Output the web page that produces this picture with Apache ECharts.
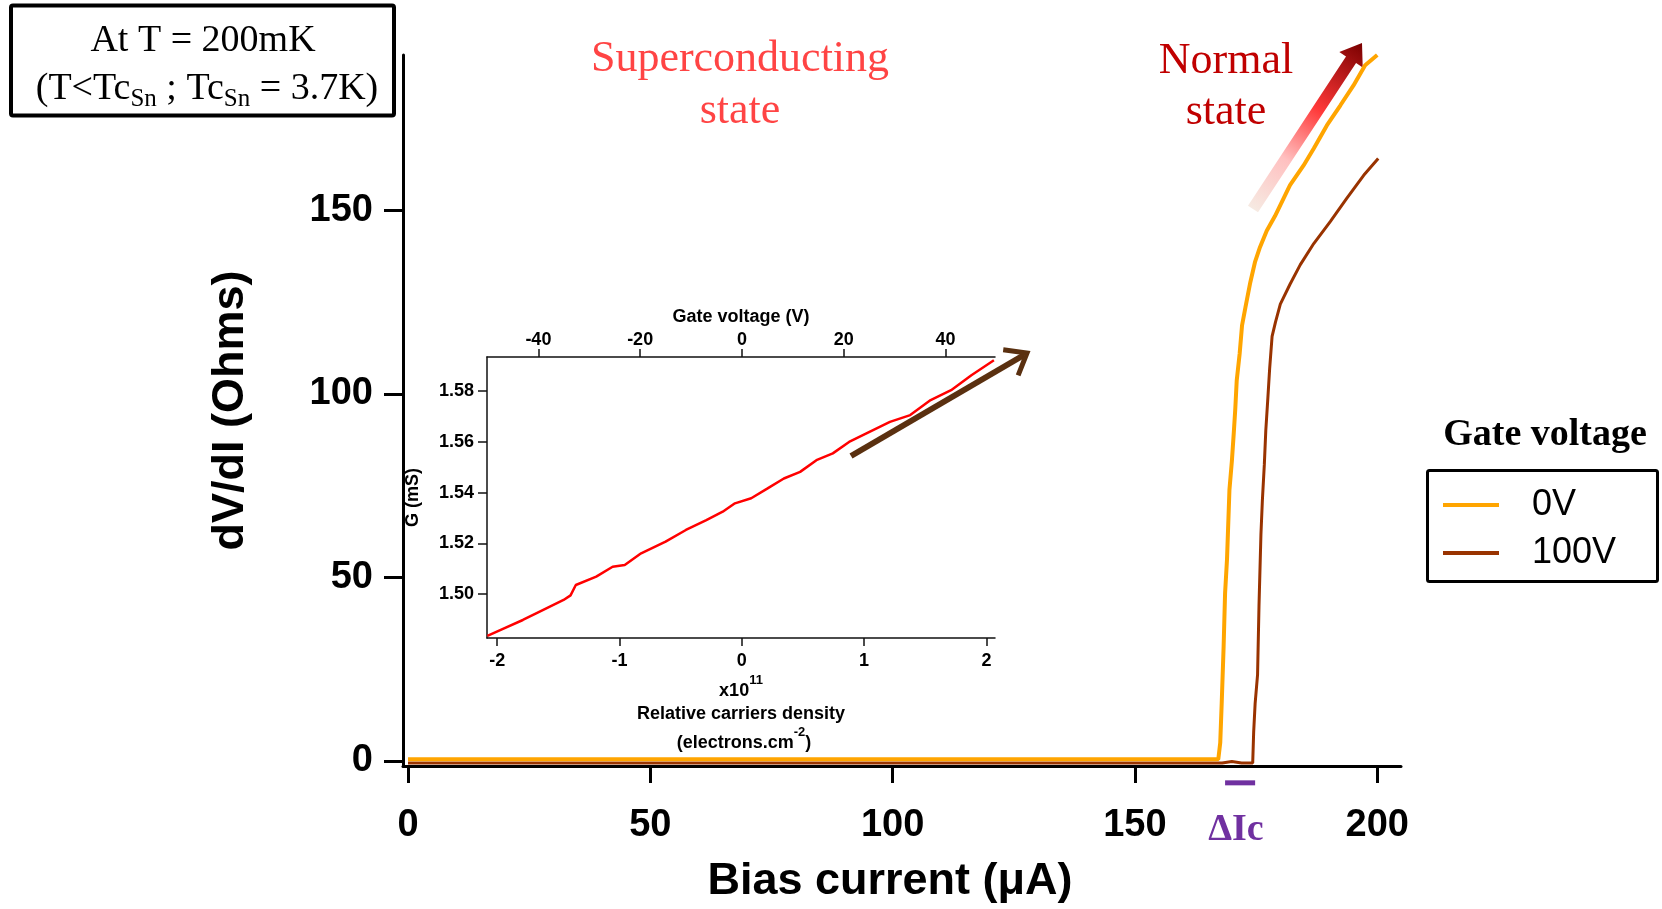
<!DOCTYPE html>
<html>
<head>
<meta charset="utf-8">
<script src="https://cdn.jsdelivr.net/npm/echarts@6/dist/echarts.min.js"></script>
<style>
  html, body { margin: 0; padding: 0; background: #fff; }
  #chart { width: 1662px; height: 909px; }
</style>
</head>
<body>
<div id="chart"></div>
<script>
// main plot: bias current (µA) -> dV/dI (Ohms)
var gate0V = [
  [0, 0.4], [60, 0.4], [120, 0.4], [167.2, 0.4], [167.6, 4.9], [167.9, 15.6], [168.3, 31.2],
  [168.6, 45.7], [169.0, 55], [169.5, 73.9], [170.0, 81.7], [170.4, 89.5], [170.7, 95.8],
  [171.0, 103.6], [171.6, 110.9], [172.1, 118.7], [172.8, 123.6], [173.8, 130.4], [174.8, 136.1],
  [175.8, 140], [177.2, 144.5], [178.9, 148.5], [180.0, 151.5], [182.0, 156.9], [184.8, 162.3],
  [186.9, 166.9], [189.6, 173.2], [192.4, 178.7], [195.1, 184.1], [197.5, 189.6], [200.0, 192.4]
];
var gate100V = [
  [0, -0.6], [60, -0.6], [120, -0.6], [160, -0.6], [168, -0.6], [170, -0.2], [172, -0.6],
  [174.3, -0.6], [174.5, 7.9], [174.8, 15.6], [175.3, 23.4], [175.6, 42.3], [176.0, 61.8],
  [176.3, 71.1], [176.7, 80.8], [177.0, 90], [177.4, 98.3], [177.8, 107], [178.3, 115.7],
  [179.0, 119.6], [180, 124.5], [182, 129.9], [184.1, 135.2], [186.9, 141], [190.3, 147.0],
  [193.7, 153.3], [197.2, 159.6], [200.2, 164.2]
];
var biasTicks = [0, 50, 100, 150, 200];
var dvdiTicks = [0, 50, 100, 150];
var deltaIc = [[168.6, -6], [174.8, -6]];

// inset: relative carrier density (x1e11 cm^-2) -> G (mS)
var densityG = [
  [-2.08, 1.4835], [-1.957, 1.4862], [-1.79, 1.4898], [-1.623, 1.4938], [-1.457, 1.4977],
  [-1.40, 1.4995], [-1.357, 1.5036], [-1.19, 1.5069], [-1.056, 1.5108], [-0.957, 1.5115],
  [-0.823, 1.5161], [-0.623, 1.5207], [-0.457, 1.5253], [-0.29, 1.5292], [-0.156, 1.5325],
  [-0.056, 1.5358], [0.077, 1.5378], [0.211, 1.5417], [0.344, 1.5456], [0.477, 1.5482],
  [0.61, 1.5528], [0.744, 1.5555], [0.877, 1.5600], [1.044, 1.5640], [1.211, 1.5679],
  [1.377, 1.5706], [1.544, 1.5765], [1.711, 1.5804], [1.877, 1.5863], [2.061, 1.5922]
];
var densityTicks = [-2, -1, 0, 1, 2];
var gateTicks = [-40, -20, 0, 20, 40];
var gTicks = [1.50, 1.52, 1.54, 1.56, 1.58];

var SANS = "'Liberation Sans', Arial, sans-serif";
var SERIF = "'Liberation Serif', 'Times New Roman', serif";

function arrowPolygon(x1, y1, x2, y2, shaft, head, headLen) {
  var dx = x2 - x1, dy = y2 - y1, len = Math.sqrt(dx * dx + dy * dy);
  var ux = dx / len, uy = dy / len, nx = -uy, ny = ux;
  var bx = x2 - ux * headLen, by = y2 - uy * headLen;
  return [
    [x1 + nx * shaft, y1 + ny * shaft], [bx + nx * shaft, by + ny * shaft],
    [bx + nx * head, by + ny * head], [x2, y2],
    [bx - nx * head, by - ny * head], [bx - nx * shaft, by - ny * shaft],
    [x1 - nx * shaft, y1 - ny * shaft]
  ];
}
function chevron(x1, y1, x2, y2, wing, ang) {
  var a = Math.atan2(y1 - y2, x1 - x2), r = ang * Math.PI / 180;
  return [
    [x2 + wing * Math.cos(a + r), y2 + wing * Math.sin(a + r)],
    [x2, y2],
    [x2 + wing * Math.cos(a - r), y2 + wing * Math.sin(a - r)]
  ];
}

var mainAxisStyle = { onZero: false, lineStyle: { color: '#000', width: 3 } };
var insetAxisLine = { onZero: false, lineStyle: { color: '#111', width: 1.5 } };

var chart = echarts.init(document.getElementById('chart'));
var option = {
  backgroundColor: '#fff',
  animation: false,
  grid: [
    { left: 403, top: 55, right: 261, bottom: 140.5 },
    { left: 487, top: 357, width: 508, height: 281 }
  ],
  xAxis: [
    {
      gridIndex: 0, type: 'value', min: -1.03, max: 204.9,
      name: 'Bias current (μA)', nameLocation: 'middle', nameGap: 93,
      nameTextStyle: { fontFamily: SANS, fontWeight: 'bold', fontSize: 45, color: '#000', padding: [0, 24, 0, 0] },
      axisLine: mainAxisStyle,
      axisTick: { customValues: biasTicks, length: 17, lineStyle: { color: '#000', width: 3 } },
      axisLabel: { customValues: biasTicks, margin: 41, fontFamily: SANS, fontWeight: 'bold', fontSize: 38, color: '#000' },
      splitLine: { show: false }
    },
    {
      gridIndex: 1, type: 'value', min: -2.083, max: 2.07,
      axisLine: insetAxisLine,
      axisTick: { customValues: densityTicks, length: 8, lineStyle: { color: '#111', width: 1.5 } },
      axisLabel: { customValues: densityTicks, margin: 14, fontFamily: SANS, fontWeight: 'bold', fontSize: 18, color: '#000' },
      splitLine: { show: false }
    },
    {
      gridIndex: 1, type: 'value', position: 'top', min: -50.1, max: 49.75,
      name: 'Gate voltage (V)', nameLocation: 'middle', nameGap: 31,
      nameTextStyle: { fontFamily: SANS, fontWeight: 'bold', fontSize: 18, color: '#000' },
      axisLine: insetAxisLine,
      axisTick: { customValues: gateTicks, length: 8, lineStyle: { color: '#111', width: 1.5 } },
      axisLabel: { customValues: gateTicks, margin: 8, fontFamily: SANS, fontWeight: 'bold', fontSize: 18, color: '#000' },
      splitLine: { show: false }
    }
  ],
  yAxis: [
    {
      gridIndex: 0, type: 'value', min: -1.41, max: 192.4,
      name: 'dV/dI (Ohms)', nameLocation: 'middle', nameGap: 150, nameRotate: 90,
      nameTextStyle: { fontFamily: SANS, fontWeight: 'bold', fontSize: 45, color: '#000' },
      axisLine: mainAxisStyle,
      axisTick: { customValues: dvdiTicks, length: 19, lineStyle: { color: '#000', width: 3 } },
      axisLabel: { customValues: dvdiTicks, margin: 30, fontFamily: SANS, fontWeight: 'bold', fontSize: 38, color: '#000', padding: [6, 0, 0, 0] },
      splitLine: { show: false }
    },
    {
      gridIndex: 1, type: 'value', min: 1.4827, max: 1.5935,
      name: 'G (mS)', nameLocation: 'middle', nameGap: 65, nameRotate: 90,
      nameTextStyle: { fontFamily: SANS, fontWeight: 'bold', fontSize: 18, color: '#000' },
      axisLine: insetAxisLine,
      axisTick: { customValues: gTicks, length: 9, lineStyle: { color: '#111', width: 1.5 } },
      axisLabel: {
        customValues: gTicks, margin: 13, fontFamily: SANS, fontWeight: 'bold', fontSize: 18, color: '#000',
        formatter: function (v) { return v.toFixed(2); }
      },
      splitLine: { show: false }
    }
  ],
  legend: {
    data: ['0V', '100V'], orient: 'vertical', left: 1438, top: 480,
    icon: 'rect', itemWidth: 56, itemHeight: 4, itemGap: 8,
    textStyle: { fontFamily: SANS, fontSize: 36, color: '#000', lineHeight: 40, padding: [0, 0, 0, 28] }
  },
  series: [
    {
      name: '100V', type: 'line', xAxisIndex: 0, yAxisIndex: 0, data: gate100V,
      symbol: 'none', z: 2, lineStyle: { color: '#993300', width: 3 }, itemStyle: { color: '#993300' }
    },
    {
      name: '0V', type: 'line', xAxisIndex: 0, yAxisIndex: 0, data: gate0V,
      symbol: 'none', z: 3, lineStyle: { color: '#FFA500', width: 4 }, itemStyle: { color: '#FFA500' }
    },
    {
      name: 'deltaIc', type: 'line', xAxisIndex: 0, yAxisIndex: 0, data: deltaIc, clip: false,
      symbol: 'none', silent: true, lineStyle: { color: '#7030A0', width: 5, cap: 'butt' }
    },
    {
      name: 'G', type: 'line', xAxisIndex: 1, yAxisIndex: 1, data: densityG,
      symbol: 'none', z: 4, lineStyle: { color: '#FF0000', width: 2.5 }
    }
  ],
  graphic: [
    // temperature box
    { type: 'rect', shape: { x: 11, y: 5.5, width: 383, height: 110, r: 2 },
      style: { fill: 'none', stroke: '#000', lineWidth: 4 } },
    { type: 'text', style: { x: 203, y: 41, text: 'At T = 200mK', align: 'center', verticalAlign: 'middle',
      fontFamily: SERIF, fontSize: 38, fill: '#000' } },
    { type: 'text', style: { x: 207, y: 91, align: 'center', verticalAlign: 'middle',
      text: '{n|(T<Tc}{s|Sn}{n| ; Tc}{s|Sn}{n| = 3.7K)}',
      rich: {
        n: { fontFamily: SERIF, fontSize: 38, lineHeight: 41, verticalAlign: 'top', fill: '#000' },
        s: { fontFamily: SERIF, fontSize: 25, verticalAlign: 'bottom', fill: '#000' }
      } } },
    // state labels
    { type: 'text', style: { x: 740, y: 85, text: 'Superconducting\nstate', align: 'center', verticalAlign: 'middle',
      fontFamily: SERIF, fontSize: 44, lineHeight: 52, fill: '#FF4444' } },
    { type: 'text', style: { x: 1226, y: 87, text: 'Normal\nstate', align: 'center', verticalAlign: 'middle',
      fontFamily: SERIF, fontSize: 44, lineHeight: 51, fill: '#C00000' } },
    { type: 'polygon', shape: { points: arrowPolygon(1253, 209, 1362, 43, 6, 14, 20) },
      style: { fill: { type: 'linear', global: true, x: 1253, y: 209, x2: 1362, y2: 43,
        colorStops: [{ offset: 0, color: '#F6EAE2' }, { offset: 0.3, color: '#FFC0C0' },
          { offset: 0.6, color: '#FF3838' }, { offset: 1, color: '#7A0000' }] } } },
    // legend frame
    { type: 'text', style: { x: 1545, y: 435, text: 'Gate voltage', align: 'center', verticalAlign: 'middle',
      fontFamily: SERIF, fontWeight: 'bold', fontSize: 38, fill: '#000' } },
    { type: 'rect', shape: { x: 1427.5, y: 470.5, width: 230, height: 111, r: 2 },
      style: { fill: 'none', stroke: '#000', lineWidth: 3 } },
    // delta Ic label
    { type: 'text', style: { x: 1236, y: 830, text: 'ΔIc', align: 'center', verticalAlign: 'middle',
      fontFamily: SERIF, fontWeight: 'bold', fontSize: 38, fill: '#7030A0' } },
    // inset arrow
    { type: 'line', shape: { x1: 851, y1: 456, x2: 1024, y2: 355 },
      style: { stroke: '#5A3010', lineWidth: 6 } },
    { type: 'polyline', shape: { points: chevron(851, 456, 1027, 353, 24, 38) },
      style: { stroke: '#5A3010', lineWidth: 5, fill: 'none', lineJoin: 'miter' } },
    // inset bottom captions
    { type: 'text', style: { x: 741, y: 687, align: 'center', verticalAlign: 'middle',
      text: '{n|x10}{p|11}',
      rich: {
        n: { fontFamily: SANS, fontWeight: 'bold', fontSize: 18, lineHeight: 27, verticalAlign: 'bottom', fill: '#000' },
        p: { fontFamily: SANS, fontWeight: 'bold', fontSize: 13, verticalAlign: 'top', fill: '#000' }
      } } },
    { type: 'text', style: { x: 741, y: 714, text: 'Relative carriers density', align: 'center', verticalAlign: 'middle',
      fontFamily: SANS, fontWeight: 'bold', fontSize: 18, fill: '#000' } },
    { type: 'text', style: { x: 744, y: 739, align: 'center', verticalAlign: 'middle',
      text: '{n|(electrons.cm}{p|-2}{n|)}',
      rich: {
        n: { fontFamily: SANS, fontWeight: 'bold', fontSize: 18, lineHeight: 26, verticalAlign: 'bottom', fill: '#000' },
        p: { fontFamily: SANS, fontWeight: 'bold', fontSize: 13, verticalAlign: 'top', fill: '#000' }
      } } }
  ]
};
chart.setOption(option);
</script>
</body>
</html>
